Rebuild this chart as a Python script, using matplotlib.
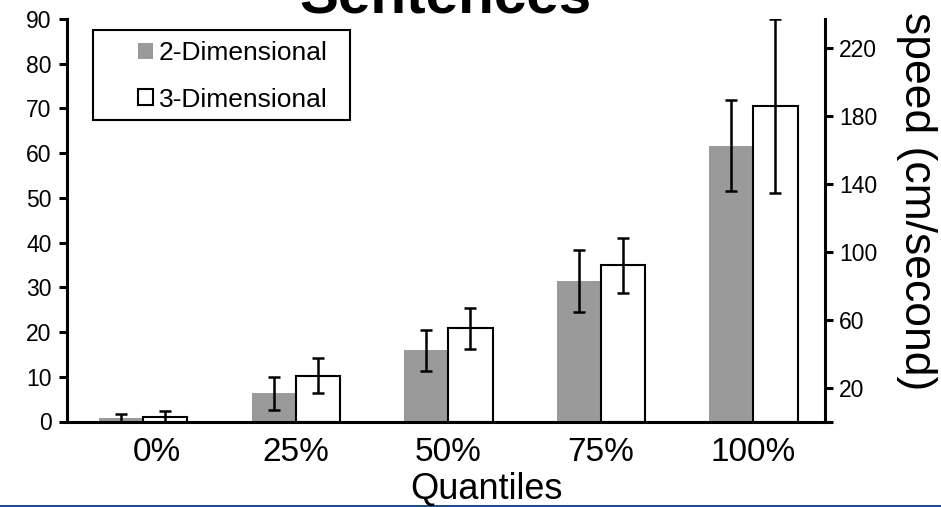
import matplotlib
matplotlib.use('Agg')
import matplotlib.pyplot as plt
import numpy as np
from matplotlib.patches import Rectangle
from matplotlib.transforms import ScaledTranslation

plt.rcParams['font.family'] = ['Liberation Sans', 'DejaVu Sans']

# Mean value per quantile and error half-widths for each display type
quantiles = ['0%', '25%', '50%', '75%', '100%']
dim2_mean = [0.7, 6.3, 15.9, 31.4, 61.7]
dim2_err = [0.9, 3.7, 4.5, 7.0, 10.1]
dim3_mean = [1.1, 10.2, 20.8, 34.9, 70.6]
dim3_err = [1.2, 3.9, 4.5, 6.2, 19.4]
series_names = ['2-Dimensional', '3-Dimensional']

left_ticks = [0, 10, 20, 30, 40, 50, 60, 70, 80, 90]
speed_ticks = [0, 20, 60, 100, 140, 180, 220]
speed_labels = ['', '20', '60', '100', '140', '180', '220']

W, H = 941, 507
fig = plt.figure(figsize=(W / 100, H / 100), dpi=100)
ax = fig.add_axes([67 / W, 1 - 421.5 / H, (825 - 67) / W, (421.5 - 19) / H])

x = np.arange(len(quantiles))
bw = 0.29
b2 = ax.bar(x - bw / 2, dim2_mean, bw, color='#9a9a9a', edgecolor='none',
            label=series_names[0], zorder=2)
b3 = ax.bar(x + bw / 2, dim3_mean, bw, color='white', edgecolor='black',
            linewidth=1.5, label=series_names[1], zorder=2)
err_kw = dict(fmt='none', ecolor='black', elinewidth=1.8, capsize=4.3,
              capthick=1.8, zorder=3)
ax.errorbar(x - bw / 2, dim2_mean, yerr=dim2_err, **err_kw)
ax.errorbar(x + bw / 2, dim3_mean, yerr=dim3_err, **err_kw)

ax.set_xlim(-0.5, 4.47)
ax.set_ylim(0, 90)
ax.set_yticks(left_ticks)
ax.set_xticks(x)
ax.set_xticklabels(quantiles, fontsize=24)
ax.tick_params(axis='x', length=0, pad=11)
ax.tick_params(axis='y', length=6, width=2.2, pad=5, labelsize=16.5, direction='out')
for side in ('top', 'right'):
    ax.spines[side].set_visible(False)
for side in ('left', 'bottom'):
    ax.spines[side].set_linewidth(2.2)
ax.patch.set_alpha(0)

first = ax.get_xticklabels()[0]
first.set_transform(first.get_transform() + ScaledTranslation(0.14, 0, fig.dpi_scale_trans))

# Secondary speed axis on the right
ax2 = ax.twinx()
ax2.set_ylim(0, 236.8)
ax2.set_yticks(speed_ticks)
ax2.set_yticklabels(speed_labels)
ax2.tick_params(axis='y', length=6, width=2.2, pad=4, labelsize=16.5, direction='out')
for side in ('top', 'left', 'bottom'):
    ax2.spines[side].set_visible(False)
ax2.spines['right'].set_linewidth(2.2)

# Legend with a separately drawn square frame
ax.legend(handles=[b2, b3], loc='center left',
          bbox_to_anchor=(138 / W, 1 - 76.5 / H), bbox_transform=fig.transFigure,
          frameon=False, borderpad=0, borderaxespad=0, fontsize=19,
          handlelength=0.55, handleheight=0.55, handletextpad=0.25,
          labelspacing=0.85)
fig.add_artist(Rectangle((93 / W, 1 - 120 / H), (350 - 93) / W, 90 / H,
                         transform=fig.transFigure, fill=False,
                         linewidth=1.5, edgecolor='black'))

fig.text(445 / W, 1 - 13 / H, 'Sentences', fontsize=42, fontweight='bold',
         ha='center', va='baseline')
fig.text(486 / W, 1 - 499 / H, 'Quantiles', fontsize=26, ha='center', va='baseline')
fig.text(917 / W, 1 - 201 / H, 'speed (cm/second)', fontsize=32, rotation=270,
         ha='center', va='center')

fig.add_artist(Rectangle((0, 0), 1, 2.5 / H, transform=fig.transFigure,
                         facecolor='#1f4e8c', edgecolor='none'))

fig.savefig('out.png', dpi=100)
